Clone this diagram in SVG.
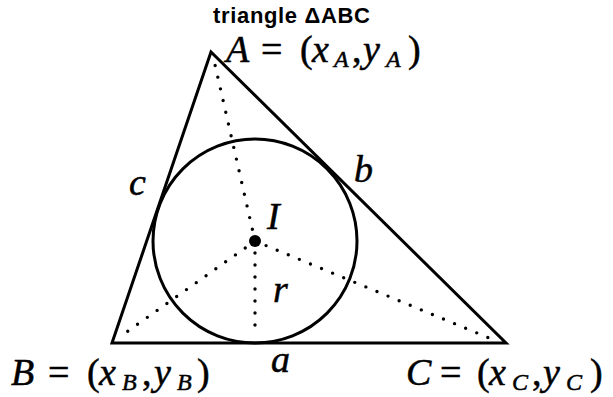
<svg xmlns="http://www.w3.org/2000/svg" width="613" height="397" viewBox="0 0 613 397">
<style>
.edge{fill:none;stroke:#000;stroke-width:3;stroke-linejoin:miter}
.dot{fill:none;stroke:#000;stroke-width:3.4;stroke-linecap:round;stroke-dasharray:0 12}
.m{font-family:"Liberation Serif","DejaVu Serif",serif;font-size:38px;fill:#000;stroke:#000;stroke-width:0.5}
.i{font-style:italic}
.s{font-size:24px;font-style:italic}
.title{font-family:"Liberation Sans",Arial,sans-serif;font-weight:bold;font-size:22px;fill:#000}
</style>
<rect width="613" height="397" fill="#fff"/>
<text class="title" x="213" y="23" textLength="157" lengthAdjust="spacing">triangle ΔABC</text>
<g id="triangle">
<polygon class="edge" points="211,52 112,343 506,343"/>
</g>
<g id="incircle">
<circle class="edge" cx="255" cy="241" r="102"/>
</g>
<g id="connectors">
<line class="dot" x1="255" y1="241" x2="213" y2="56"/>
<line class="dot" x1="255" y1="241" x2="121" y2="336"/>
<line class="dot" x1="255" y1="241" x2="494" y2="340"/>
<line class="dot" x1="255" y1="241" x2="255" y2="331"/>
</g>
<g id="center-I">
<circle cx="255" cy="241" r="6" fill="#000"/>
<text class="m i" x="267" y="229">I</text>
</g>
<g id="radius-r">
<text class="m i" x="273" y="302">r</text>
</g>
<g id="side-a"><text class="m i" x="271" y="372">a</text></g>
<g id="side-b"><text class="m i" x="354" y="182">b</text></g>
<g id="side-c"><text class="m i" x="129" y="195">c</text></g>
<g id="vertex-A">
<text class="m"><tspan class="i" x="226" y="62">A</tspan><tspan x="261" y="62">=</tspan><tspan x="300" y="62">(</tspan><tspan class="i" x="312" y="62">x</tspan><tspan class="s" x="334" y="67">A</tspan><tspan x="352" y="62">,</tspan><tspan class="i" x="363" y="62">y</tspan><tspan class="s" x="386" y="67">A</tspan><tspan x="408" y="62">)</tspan></text>
</g>
<g id="vertex-B">
<text class="m"><tspan class="i" x="11" y="385">B</tspan><tspan x="48" y="385">=</tspan><tspan x="87" y="385">(</tspan><tspan class="i" x="99" y="385">x</tspan><tspan class="s" x="122" y="390">B</tspan><tspan x="142" y="385">,</tspan><tspan class="i" x="154" y="385">y</tspan><tspan class="s" x="177" y="390">B</tspan><tspan x="197" y="385">)</tspan></text>
</g>
<g id="vertex-C">
<text class="m"><tspan class="i" x="406" y="385">C</tspan><tspan x="440" y="385">=</tspan><tspan x="477" y="385">(</tspan><tspan class="i" x="489" y="385">x</tspan><tspan class="s" x="512" y="390">C</tspan><tspan x="532" y="385">,</tspan><tspan class="i" x="543" y="385">y</tspan><tspan class="s" x="566" y="390">C</tspan><tspan x="590" y="385">)</tspan></text>
</g>
</svg>
